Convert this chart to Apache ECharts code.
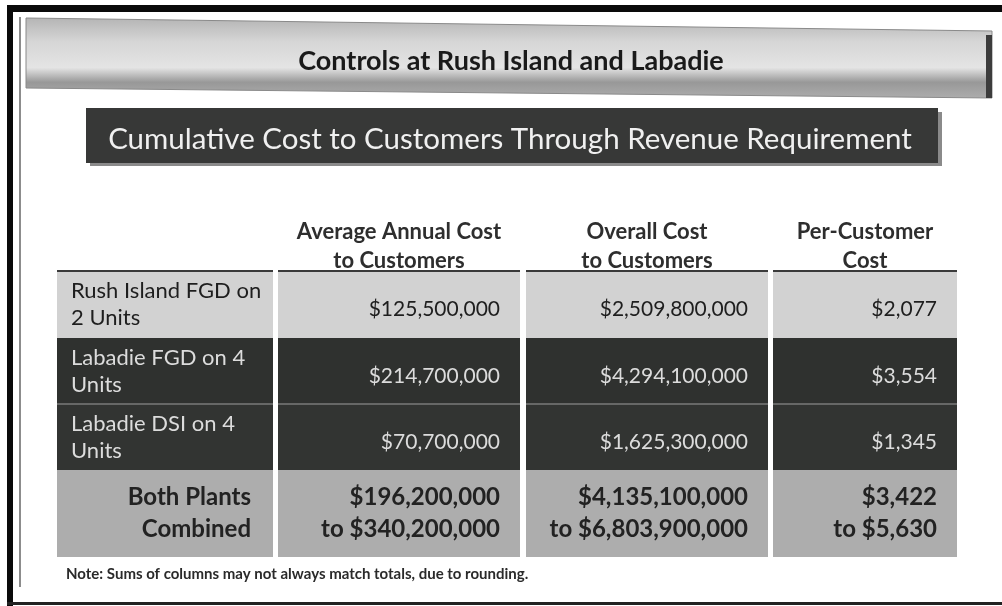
<!DOCTYPE html>
<html>
<head>
<meta charset="utf-8">
<script src="https://cdn.jsdelivr.net/npm/echarts@6.0.0/dist/echarts.min.js"></script>
<style>
html, body { margin: 0; padding: 0; background: #fff; }
#main { width: 1002px; height: 606px; }
</style>
</head>
<body>
<div id="main"></div>
<script>
var chartTitle = 'Controls at Rush Island and Labadie';
var subTitle = 'Cumulative Cost to Customers Through Revenue Requirement';
var noteText = 'Note: Sums of columns may not always match totals, due to rounding.';

var headers = ['', 'Average Annual Cost\nto Customers', 'Overall Cost\nto Customers', 'Per-Customer\nCost'];
var rowLabels = ['Rush Island FGD on\n2 Units', 'Labadie FGD on 4\nUnits', 'Labadie DSI on 4\nUnits', 'Both Plants\nCombined'];
var annualCost = ['$125,500,000', '$214,700,000', '$70,700,000', '$196,200,000\nto $340,200,000'];
var overallCost = ['$2,509,800,000', '$4,294,100,000', '$1,625,300,000', '$4,135,100,000\nto $6,803,900,000'];
var perCustomer = ['$2,077', '$3,554', '$1,345', '$3,422\nto $5,630'];

var columns = [rowLabels, annualCost, overallCost, perCustomer];

// table layout (grid units = px)
var colEdges = [[0, 216], [221, 463], [469, 711], [716, 900]];
var rowEdges = [[0, 67], [67, 133], [133, 199], [199, 286]];
var rowFill = ['#d2d2d2', '#2f312f', '#323432', '#adadad'];
var rowInk = ['#1e1e1e', '#dcdcdc', '#dcdcdc', '#222'];
var FONT = 'Lato, "Liberation Sans", sans-serif';

var cells = [];
for (var r = 0; r < rowLabels.length; r++) {
    for (var c = 0; c < columns.length; c++) {
        cells.push([c, r]);
    }
}
var headCells = [[1, 0], [2, 0], [3, 0]];

function renderCell(params, api) {
    var c = api.value(0), r = api.value(1);
    var p0 = api.coord([colEdges[c][0], rowEdges[r][0]]);
    var p1 = api.coord([colEdges[c][1], rowEdges[r][1]]);
    var x = p0[0], y = p0[1], w = p1[0] - p0[0], h = p1[1] - p0[1];
    var txt = columns[c][r];
    var last = r === rowLabels.length - 1;
    var kids = [{
        type: 'rect',
        shape: { x: x, y: y, width: w, height: h },
        style: { fill: rowFill[r] }
    }];
    if (r === 0) {
        kids.push({ type: 'line', shape: { x1: x, y1: y, x2: x + w, y2: y }, style: { stroke: '#3a3a3a', lineWidth: 2 } });
    }
    if (r === 2) {
        kids.push({ type: 'line', shape: { x1: x, y1: y, x2: x + w, y2: y }, style: { stroke: '#7a7a7a', lineWidth: 1.5 } });
    }
    var tx, align, ty = y + h / 2, size = 21, weight = 'normal', lh = 27;
    if (c === 0 && !last) { tx = x + 14; align = 'left'; size = 22; }
    else if (c === 0) { tx = x + w - 22; align = 'right'; size = 24; weight = 'bold'; lh = 32; }
    else { tx = x + w - 20; align = 'right'; ty = last ? ty : ty + 5; if (last) { size = 24; weight = 'bold'; lh = 32; } }
    kids.push({
        type: 'text',
        style: {
            text: txt, x: tx, y: ty, align: align, verticalAlign: 'middle',
            fontFamily: FONT, fontSize: size, fontWeight: weight, lineHeight: lh,
            fill: rowInk[r]
        }
    });
    return { type: 'group', children: kids };
}

function renderHead(params, api) {
    var c = api.value(0);
    var p0 = api.coord([colEdges[c][0], 0]);
    var p1 = api.coord([colEdges[c][1], 0]);
    return {
        type: 'text',
        style: {
            text: headers[c], x: (p0[0] + p1[0]) / 2, y: p0[1] - 25,
            align: 'center', verticalAlign: 'middle',
            fontFamily: FONT, fontSize: 22, fontWeight: 'bold', lineHeight: 29,
            fill: '#2e2e2e'
        }
    };
}

var chart = echarts.init(document.getElementById('main'));
var option = {
    backgroundColor: '#fff',
    animation: false,
    grid: { left: 57, top: 211, width: 900, height: 348 },
    xAxis: { type: 'value', min: 0, max: 900, show: false },
    yAxis: { type: 'value', min: -60, max: 288, inverse: true, show: false },
    graphic: [
        // scan frame
        { type: 'rect', shape: { x: 7, y: 5, width: 995, height: 7 }, style: { fill: '#0a0a0a' } },
        { type: 'rect', shape: { x: 7, y: 5, width: 6, height: 601 }, style: { fill: '#0a0a0a' } },
        { type: 'rect', shape: { x: 7, y: 602, width: 995, height: 3 }, style: { fill: '#222' } },
        { type: 'rect', shape: { x: 19, y: 17, width: 2, height: 570 }, style: { fill: '#8c8c8c' } },
        // banner
        {
            type: 'polygon',
            shape: { points: [[26, 18], [992, 31], [992, 98], [26, 88]] },
            style: {
                fill: {
                    type: 'linear', x: 0, y: 0, x2: 0, y2: 1,
                    colorStops: [
                        { offset: 0, color: '#b4b4b4' },
                        { offset: 0.3, color: '#d6d6d6' },
                        { offset: 0.62, color: '#e4e4e4' },
                        { offset: 0.8, color: '#989898' },
                        { offset: 1, color: '#adadad' }
                    ]
                },
                stroke: '#8a8a8a', lineWidth: 1
            }
        },
        { type: 'rect', shape: { x: 986, y: 35, width: 6, height: 63 }, style: { fill: '#3c3c3c' } },
        {
            type: 'text', x: 511, y: 61,
            style: { text: chartTitle, align: 'center', verticalAlign: 'middle', fontFamily: FONT, fontSize: 27, fontWeight: 'bold', fill: '#1a1a1a' }
        },
        // sub-title box
        { type: 'rect', shape: { x: 90, y: 112, width: 852, height: 54 }, style: { fill: '#8a8a8a' } },
        { type: 'rect', shape: { x: 86, y: 108, width: 852, height: 55 }, style: { fill: '#373837' } },
        {
            type: 'text', x: 510, y: 139,
            style: { text: subTitle, align: 'center', verticalAlign: 'middle', fontFamily: FONT, fontSize: 29.5, fill: '#f0f0f0' }
        },
        {
            type: 'text', x: 66, y: 574,
            style: { text: noteText, align: 'left', verticalAlign: 'middle', fontFamily: FONT, fontSize: 15, fontWeight: 'bold', fill: '#2a2a2a' }
        }
    ],
    series: [
        { type: 'custom', name: 'cells', renderItem: renderCell, data: cells, silent: true },
        { type: 'custom', name: 'headers', renderItem: renderHead, data: headCells, silent: true }
    ]
};
chart.setOption(option);
</script>
</body>
</html>
